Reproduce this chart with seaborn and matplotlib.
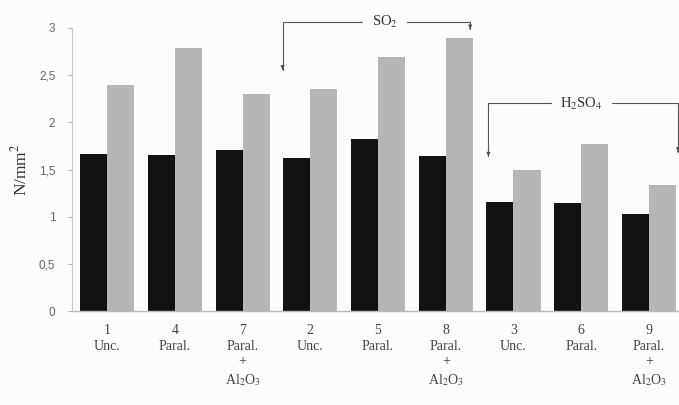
import numpy as np
import pandas as pd
import matplotlib
matplotlib.use("Agg")
import matplotlib.pyplot as plt
import seaborn as sns

# Sample numbers, treatments and measured strengths (N/mm^2)
sample_ids = ["1", "4", "7", "2", "5", "8", "3", "6", "9"]
treatments = ["Unc.", "Paral.", "Paral.+Al2O3",
              "Unc.", "Paral.", "Paral.+Al2O3",
              "Unc.", "Paral.", "Paral.+Al2O3"]
series_names = ["A", "B"]
values_a = [1.66, 1.65, 1.71, 1.62, 1.82, 1.64, 1.16, 1.15, 1.03]
values_b = [2.40, 2.79, 2.30, 2.35, 2.69, 2.89, 1.49, 1.77, 1.34]
y_ticks = [0, 0.5, 1, 1.5, 2, 2.5, 3]
y_tick_labels = ["0", "0,5", "1", "1,5", "2", "2,5", "3"]

sns.set_style("white")
plt.rcParams["font.family"] = ["Liberation Serif", "DejaVu Serif"]
plt.rcParams["mathtext.fontset"] = "stix"

df = pd.DataFrame({
    "sample": sample_ids * 2,
    "series": [series_names[0]] * len(sample_ids) + [series_names[1]] * len(sample_ids),
    "value": values_a + values_b,
})

fig = plt.figure(figsize=(6.79, 4.05), dpi=100)
fig.patch.set_facecolor("#fcfcfc")
ax = fig.add_axes([72 / 679, 1 - 311 / 405, 606 / 679, 283 / 405])
ax.set_facecolor("#fcfcfc")

sns.barplot(data=df, x="sample", y="value", hue="series", order=sample_ids,
            palette=["#121212", "#b6b6b6"], width=0.8, gap=0,
            saturation=1, legend=False, ax=ax, errorbar=None, linewidth=0)

ax.set_ylim(0, 3)
ax.set_xlim(-0.52, 8.43)

# y axis
ax.set_yticks(y_ticks)
ax.set_yticklabels(y_tick_labels, family=["Liberation Sans"], fontsize=8.5,
                   color="#666666")
ax.tick_params(axis="y", length=3, width=0.6, color="#aaaaaa", pad=9, left=True)
ax.set_ylabel("N/mm$^2$", fontsize=12.5, color="#333333", labelpad=6)
ax.set_xlabel("")

# x labels: sample number, treatment, optional "+ Al2O3"
def tick_text(num, treat):
    if treat == "Paral.+Al2O3":
        return f"{num}\nParal.\n+\nAl$_2$O$_3$"
    return f"{num}\n{treat}"

ax.set_xticks(range(len(sample_ids)))
ax.set_xticklabels([tick_text(n, t) for n, t in zip(sample_ids, treatments)],
                   fontsize=10, color="#444444", linespacing=1.3, va="top")
ax.tick_params(axis="x", length=0, pad=9)

for side in ["top", "right"]:
    ax.spines[side].set_visible(False)
ax.spines["left"].set_color("#c8c8c8")
ax.spines["left"].set_linewidth(0.8)
ax.spines["bottom"].set_color("#bbbbbb")
ax.spines["bottom"].set_linewidth(1.0)

# bracket annotations for the two exposure groups
def bracket(x0, x1, y, tip0, tip1, label, xt, gap):
    kw = dict(color="#555555", lw=0.8, clip_on=False)
    ax.plot([x0, x0], [tip0 + 0.03, y], **kw)
    ax.plot([x0, xt - gap], [y, y], **kw)
    ax.plot([xt + gap, x1], [y, y], **kw)
    ax.plot([x1, x1], [y, tip1 + 0.03], **kw)
    for xx, tt in [(x0, tip0), (x1, tip1)]:
        ax.annotate("", xy=(xx, tt), xytext=(xx, tt + 0.06),
                    arrowprops=dict(arrowstyle="-|>", color="#555555",
                                    lw=0.8, mutation_scale=5),
                    annotation_clip=False)
    ax.text(xt, y, label, ha="center", va="center", fontsize=10.5,
            color="#333333", clip_on=False)

bracket(2.59, 5.36, 3.06, 2.53, 2.96, "SO$_2$", 4.1, 0.33)
bracket(5.63, 8.43, 2.20, 1.61, 1.66, "H$_2$SO$_4$", 7.0, 0.45)

fig.savefig("out.png", dpi=100, facecolor=fig.get_facecolor())
